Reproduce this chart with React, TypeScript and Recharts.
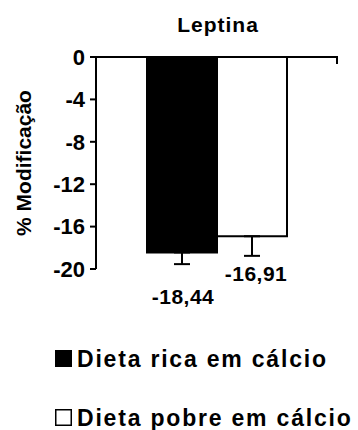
import React from "react";
import { BarChart, Bar, XAxis, YAxis, ErrorBar, LabelList, ReferenceLine } from "recharts";

const categories = ["Leptina"];
const seriesNames = ["Dieta rica em cálcio", "Dieta pobre em cálcio"];
const seriesColors = ["#000", "#fff"];
const ricaValues = [-18.44];
const pobreValues = [-16.91];
const ricaErrors = [1.1];
const pobreErrors = [1.85];
const yTicks = [0, -4, -8, -12, -16, -20];

const data = categories.map((name, i) => ({
	name,
	rica: ricaValues[i],
	pobre: pobreValues[i],
	ricaErr: [ricaErrors[i], 0],
	pobreErr: [pobreErrors[i], 0],
}));

const FONT = '"Liberation Sans", Arial, Helvetica, sans-serif';

const fmt = (v: number) => v.toFixed(2).replace(".", ",");

// value label below the bar, shifted past the error bar
const valueLabel = (dx: number, dy: number) => (props: any) => {
	const { x, y, width, height, value } = props;
	const bottom = Math.max(y, y + height);
	return (
		<text
			x={x + width / 2 + dx}
			y={bottom + dy}
			textAnchor="middle"
			fontFamily={FONT}
			fontWeight="bold"
			fontSize={21}
			letterSpacing={0.5}
			fill="#000"
		>
			{fmt(value)}
		</text>
	);
};

// tick at the right end of the category band
const EdgeTick = (props: any) => {
	const { x, y, payload } = props;
	const xe = x + (payload?.offset ?? 0) - 1;
	return <line x1={xe} y1={y} x2={xe} y2={y + 7} stroke="#000" strokeWidth={2} />;
};

// title, axis title and legend, drawn inside the chart svg
const Decorations = () => (
	<g>
		<text
			x={218}
			y={32}
			textAnchor="middle"
			fontFamily={FONT}
			fontWeight="bold"
			fontSize={21}
			letterSpacing={1}
			fill="#000"
		>
			{categories[0]}
		</text>
		<text
			transform="translate(31, 163) rotate(-90)"
			textAnchor="middle"
			fontFamily={FONT}
			fontWeight="bold"
			fontSize={21}
			fill="#000"
		>
			% Modificação
		</text>
		{seriesNames.map((name, i) => (
			<g key={name} transform={`translate(55, ${350 + i * 59})`}>
				<rect
					x={0.75}
					y={0.75}
					width={15.5}
					height={15.5}
					fill={seriesColors[i]}
					stroke="#000"
					strokeWidth={1.5}
				/>
				<text
					x={22}
					y={17}
					fontFamily={FONT}
					fontWeight="bold"
					fontSize={23}
					letterSpacing={1.8}
					fill="#000"
				>
					{name}
				</text>
			</g>
		))}
	</g>
);

export default function App() {
	return (
		<div style={{ width: 358, height: 430, background: "#fff" }}>
			<style>{`body{margin:0;}`}</style>
			<BarChart
				width={358}
				height={430}
				data={data}
				margin={{ top: 27, right: 20, left: 0, bottom: 161 }}
				barGap={0}
				barSize={70}
			>
				<XAxis
					dataKey="name"
					orientation="top"
					height={30}
					tickSize={0}
					tickMargin={0}
					tickLine={false}
					tick={<EdgeTick />}
					axisLine={{ stroke: "#000", strokeWidth: 2 }}
				/>
				<YAxis
					width={96}
					domain={[-20, 0]}
					ticks={yTicks}
					interval={0}
					tickSize={6}
					tickMargin={5}
					axisLine={{ stroke: "#000", strokeWidth: 2 }}
					tickLine={{ stroke: "#000", strokeWidth: 2 }}
					tick={{ fill: "#000", fontFamily: FONT, fontWeight: "bold", fontSize: 22 }}
					label={{ content: () => <Decorations /> }}
				/>
				<Bar
					name={seriesNames[0]}
					dataKey="rica"
					fill={seriesColors[0]}
					stroke="#000"
					strokeWidth={2}
					isAnimationActive={false}
				>
					<ErrorBar dataKey="ricaErr" direction="y" width={8} stroke="#000" strokeWidth={2} />
					<LabelList dataKey="rica" content={valueLabel(1, 52)} />
				</Bar>
				<Bar
					name={seriesNames[1]}
					dataKey="pobre"
					fill={seriesColors[1]}
					stroke="#000"
					strokeWidth={2}
					isAnimationActive={false}
				>
					<ErrorBar dataKey="pobreErr" direction="y" width={8} stroke="#000" strokeWidth={2} />
					<LabelList dataKey="pobre" content={valueLabel(4, 45)} />
				</Bar>
				<ReferenceLine y={0} stroke="#000" strokeWidth={2} />
			</BarChart>
		</div>
	);
}
